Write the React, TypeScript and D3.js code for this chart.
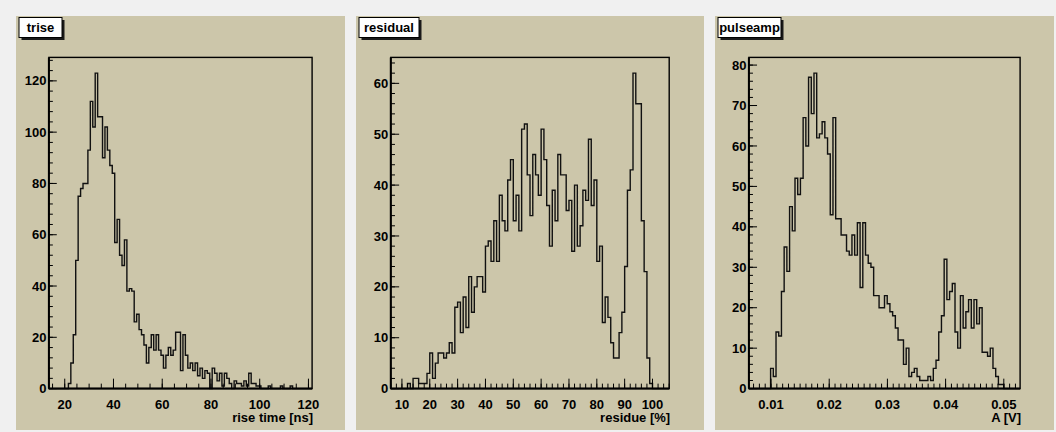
import { scaleLinear, max } from 'd3';

// trise: 1 ns bins, 13.5 .. 121.5
const triseRange = [13.5, 121.5];
const triseCounts = [
  0, 0, 0, 0, 0, 0, 0, 0,
  2, 10, 21, 50, 75, 78, 80, 80, 93, 112, 102, 123,
  106, 106, 90, 102, 93, 87, 84, 57, 66, 52, 48, 58,
  38, 39, 38, 26, 29, 23, 21, 17, 10, 16, 21, 15,
  21, 15, 13, 8, 13, 16, 13, 15, 22, 22, 7, 21,
  13, 8, 10, 7, 10, 5, 8, 4, 7, 6, 0, 8,
  6, 3, 6, 1, 6, 4, 2, 0, 3, 2, 2, 1,
  3, 1, 6, 2, 2, 1, 1, 0, 0, 0, 1, 0,
  0, 0, 0, 1, 0, 0, 0, 1, 0, 0, 0, 0,
  0, 0, 0, 0,
];
const triseXTicks = [20, 40, 60, 80, 100, 120];
const triseYTicks = [0, 20, 40, 60, 80, 100, 120];

// residual: 1 % bins, 6 .. 106
const residualRange = [6, 106];
const residualCounts = [
  0, 0, 0, 0, 0, 0, 1, 0, 2, 2,
  1, 1, 1, 3, 7, 2, 5, 7, 7, 6,
  7, 9, 7, 16, 17, 11, 18, 12, 22, 15,
  20, 22, 22, 19, 28, 29, 25, 33, 25, 38,
  33, 31, 41, 45, 33, 38, 31, 51, 52, 42,
  34, 46, 42, 38, 51, 45, 36, 28, 39, 33,
  46, 42, 42, 35, 37, 27, 40, 28, 32, 39,
  37, 49, 36, 41, 25, 28, 13, 18, 14, 9,
  6, 6, 11, 15, 24, 39, 43, 62, 56, 56,
  33, 23, 6, 1, 0, 0, 0, 0, 0, 0,
];
const residualXTicks = [10, 20, 30, 40, 50, 60, 70, 80, 90, 100];
const residualYTicks = [0, 10, 20, 30, 40, 50, 60];

// pulseamp: 100 bins, 0.0062 .. 0.0528 V
const pulseRange = [0.0062, 0.0528];
const pulseCounts = [
  0, 0, 0, 0, 0, 0, 0, 0, 5, 3,
  14, 13, 24, 35, 29, 45, 39, 52, 48, 52,
  67, 60, 77, 68, 78, 62, 63, 66, 62, 58,
  43, 67, 42, 42, 38, 38, 34, 33, 38, 33,
  41, 25, 41, 33, 31, 30, 23, 23, 20, 20,
  23, 21, 19, 18, 15, 12, 12, 6, 10, 3,
  4, 5, 3, 2, 2, 2, 3, 2, 5, 7,
  14, 18, 32, 22, 24, 26, 14, 10, 23, 15,
  19, 22, 15, 22, 16, 20, 9, 9, 8, 10,
  5, 3, 1, 1, 0, 0, 0, 0, 0, 0,
];
const pulseXTicks = [0.01, 0.02, 0.03, 0.04, 0.05];
const pulseYTicks = [0, 10, 20, 30, 40, 50, 60, 70, 80];

const histTitles = ['trise', 'residual', 'pulseamp'];
const axisTitles = ['rise time [ns]', 'residue [%]', 'A [V]'];

const FONT = '"Liberation Sans", Arial, Helvetica, sans-serif';
const PAD_BG = '#ccc6aa';
const PAD_TOP = 16;
const PAD_BOTTOM = 430;

interface HistSpec {
  title: string;
  xTitle: string;
  range: number[];
  counts: number[];
  xTicks: number[];
  yTicks: number[];
}

interface PadLayout {
  x: number;
  w: number;
  boxW: number;
  xMinor: number;
  yMinor: number;
}

const layouts: PadLayout[] = [
  { x: 16, w: 329, boxW: 43, xMinor: 5, yMinor: 4 },
  { x: 356, w: 348, boxW: 60, xMinor: 2, yMinor: 2 },
  { x: 715, w: 339, boxW: 63, xMinor: 0.001, yMinor: 2 },
];

const specs: HistSpec[] = [
  { title: histTitles[0], xTitle: axisTitles[0], range: triseRange, counts: triseCounts, xTicks: triseXTicks, yTicks: triseYTicks },
  { title: histTitles[1], xTitle: axisTitles[1], range: residualRange, counts: residualCounts, xTicks: residualXTicks, yTicks: residualYTicks },
  { title: histTitles[2], xTitle: axisTitles[2], range: pulseRange, counts: pulseCounts, xTicks: pulseXTicks, yTicks: pulseYTicks },
];

function minorTicks(lo: number, hi: number, step: number) {
  const out: number[] = [];
  const k0 = Math.ceil(lo / step - 1e-6);
  const k1 = Math.floor(hi / step + 1e-6);
  for (let k = k0; k <= k1; k++) out.push(k * step);
  return out;
}

function HistPad({ spec, layout }: { spec: HistSpec; layout: PadLayout }) {
  const padH = PAD_BOTTOM - PAD_TOP;
  const left = layout.x + 0.1 * layout.w;
  const right = layout.x + 0.9 * layout.w;
  const top = PAD_TOP + 0.1 * padH;
  const bottom = PAD_BOTTOM - 0.1 * padH;
  const [lo, hi] = spec.range;
  const ymax = (max(spec.counts) || 1) * 1.05;

  const x = scaleLinear().domain([lo, hi]).range([left, right]);
  const y = scaleLinear().domain([0, ymax]).range([bottom, top]);

  // histogram outline
  const bw = (hi - lo) / spec.counts.length;
  let d = `M${x(lo)},${y(0)}`;
  spec.counts.forEach((c, i) => {
    d += `L${x(lo + i * bw)},${y(c)}L${x(lo + (i + 1) * bw)},${y(c)}`;
  });
  d += `L${x(hi)},${y(0)}`;

  const xMajLen = 0.03 * (bottom - top);
  const yMajLen = 0.03 * (right - left);

  const xMinors = minorTicks(lo, hi, layout.xMinor);
  const yMinors = minorTicks(0, ymax, layout.yMinor);

  const bx = layout.x + 3;
  const by = 17.5;

  return (
    <g>
      <rect x={layout.x} y={PAD_TOP} width={layout.w} height={padH} fill={PAD_BG} />
      {/* frame */}
      <rect x={left} y={top} width={right - left} height={bottom - top} fill="none" stroke="#000" strokeWidth={1.4} />
      <path d={d} fill="none" stroke="#111" strokeWidth={1.4} strokeLinejoin="miter" />

      {/* x axis */}
      <line x1={left} x2={right} y1={bottom} y2={bottom} stroke="#000" strokeWidth={2} />
      {xMinors.map((v, i) => (
        <line key={`xm${i}`} x1={x(v)} x2={x(v)} y1={bottom} y2={bottom - xMajLen / 2} stroke="#000" strokeWidth={1} />
      ))}
      {spec.xTicks.map((v) => (
        <g key={`xt${v}`}>
          <line x1={x(v)} x2={x(v)} y1={bottom} y2={bottom - xMajLen} stroke="#000" strokeWidth={1} />
          <text x={x(v)} y={409} textAnchor="middle" fontFamily={FONT} fontWeight="bold" fontSize={13} fill="#000">
            {String(v)}
          </text>
        </g>
      ))}
      <text x={right + 1} y={422} textAnchor="end" fontFamily={FONT} fontWeight="bold" fontSize={13} fill="#000">
        {spec.xTitle}
      </text>

      {/* y axis */}
      <line x1={left} x2={left} y1={top} y2={bottom} stroke="#000" strokeWidth={2} />
      {yMinors.map((v, i) => (
        <line key={`ym${i}`} x1={left} x2={left + yMajLen / 2} y1={y(v)} y2={y(v)} stroke="#000" strokeWidth={1} />
      ))}
      {spec.yTicks.map((v) => (
        <g key={`yt${v}`}>
          <line x1={left} x2={left + yMajLen} y1={y(v)} y2={y(v)} stroke="#000" strokeWidth={1} />
          <text x={left - 2.5} y={y(v) + 4.6} textAnchor="end" fontFamily={FONT} fontWeight="bold" fontSize={13} fill="#000">
            {String(v)}
          </text>
        </g>
      ))}

      {/* title box */}
      <rect x={bx + 2.5} y={by + 2.5} width={layout.boxW} height={20} fill="#1a1a1a" />
      <rect x={bx} y={by} width={layout.boxW} height={20} fill="#fff" stroke="#000" strokeWidth={1} />
      <text x={bx + layout.boxW / 2} y={by + 14} textAnchor="middle" fontFamily={FONT} fontWeight="bold" fontSize={13} fill="#000">
        {spec.title}
      </text>
    </g>
  );
}

export default function App() {
  return (
    <svg
      width={1056}
      height={432}
      style={{ position: 'absolute', left: 0, top: 0, display: 'block' }}
    >
      <rect x={0} y={0} width={1056} height={432} fill="#f0f0f0" />
      {specs.map((s, i) => (
        <HistPad key={s.title} spec={s} layout={layouts[i]} />
      ))}
    </svg>
  );
}
